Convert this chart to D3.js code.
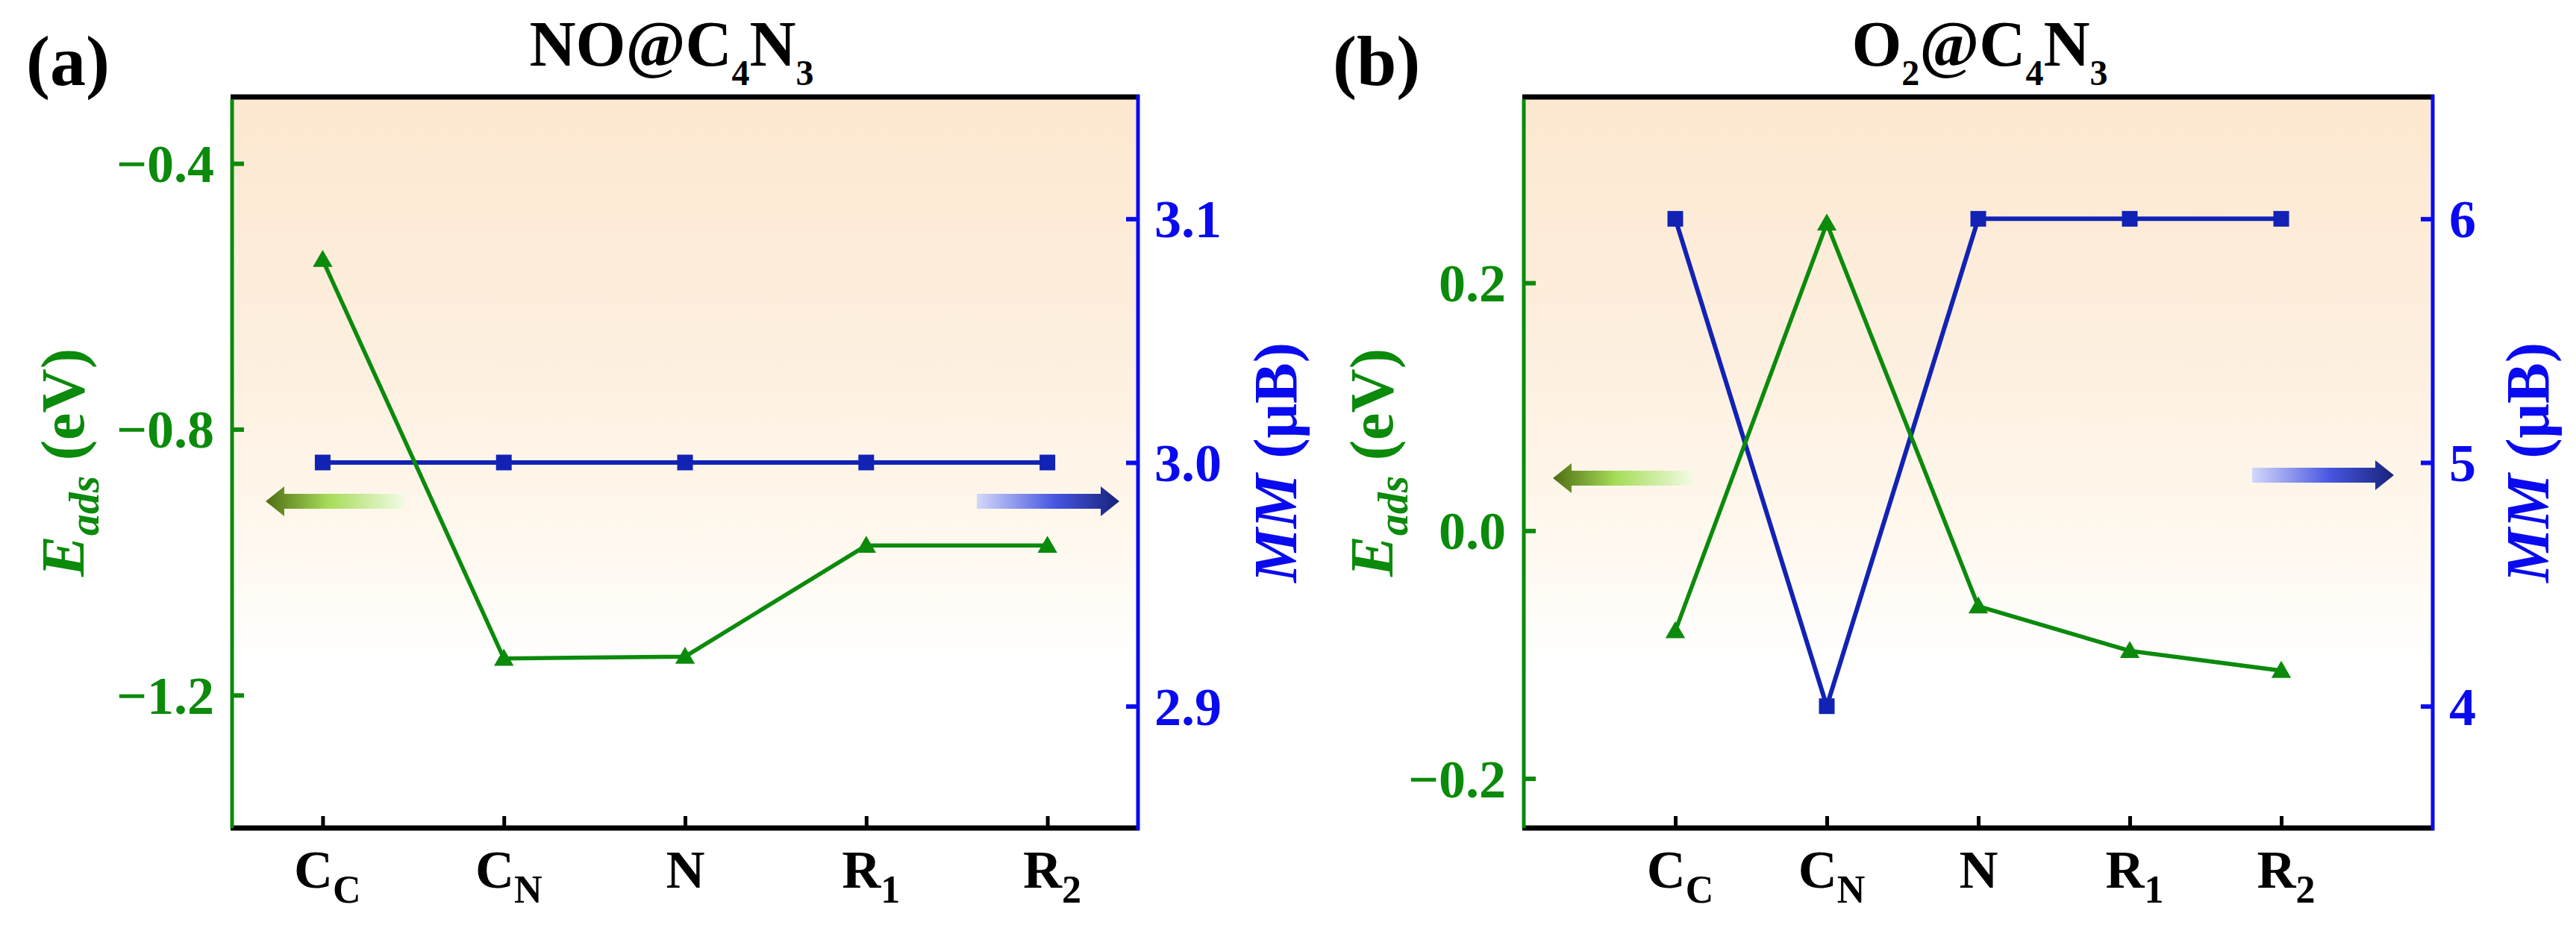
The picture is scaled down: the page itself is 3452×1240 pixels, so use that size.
<!DOCTYPE html>
<html>
<head>
<meta charset="utf-8">
<script src="https://cdn.jsdelivr.net/npm/d3@7"></script>
<style>
  html, body { margin: 0; padding: 0; background: #fff; }
  svg { display: block; }
  svg text { font-family: "Liberation Serif", "Times New Roman", Times, "DejaVu Serif", serif; font-weight: bold; }
</style>
</head>
<body>
<div id="chart"></div>
<script>
// adsorption sites (tick labels: main letter + subscript)
const siteMain = ["C", "C", "N", "R", "R"]
const siteSub = ["C", "N", "", "1", "2"]

// (a) NO@C4N3
const eadsNO = [-0.545, -1.145, -1.142, -0.975, -0.975]
const mmNO = [3.0, 3.0, 3.0, 3.0, 3.0]
// (b) O2@C4N3
const eadsO2 = [-0.081, 0.248, -0.061, -0.097, -0.113]
const mmO2 = [6, 4, 6, 6, 6]

const eadsTicksNO = [-1.2, -0.8, -0.4]
const mmTicksNO = [2.9, 3.0, 3.1]
const eadsTicksO2 = [-0.2, 0.0, 0.2]
const mmTicksO2 = [4, 5, 6]

const green = "#0b8a0b"
const blueAxis = "#0a0af0"
const blueLine = "#1222b4"

const W = 3452, H = 1240
const plotTop = 130, plotBottom = 1110

const panels = [
  {
    tag: "(a)", tagX: 35,
    title: [["NO@C", 0], ["4", 1], ["N", 0], ["3", 1]], titleX: 900,
    eads: eadsNO, mm: mmNO,
    eadsTicks: eadsTicksNO, mmTicks: mmTicksNO,
    eadsDomain: [-1.4, -0.3], mmDomain: [2.85, 3.15],
    eadsFmt: d3.format(".1f"), mmFmt: d3.format(".1f"),
    xDomain: [0.5, 5.5], left: 311, right: 1525,
    leftLabelX: 112, rightLabelX: 1737,
    arrowL: { tip: 356, tail: 542, cy: 672 },
    arrowR: { tail: 1309, tip: 1500, cy: 672 }
  },
  {
    tag: "(b)", tagX: 1786,
    title: [["O", 0], ["2", 1], ["@C", 0], ["4", 1], ["N", 0], ["3", 1]], titleX: 2653,
    eads: eadsO2, mm: mmO2,
    eadsTicks: eadsTicksO2, mmTicks: mmTicksO2,
    eadsDomain: [-0.24, 0.35], mmDomain: [3.5, 6.5],
    eadsFmt: d3.format(".1f"), mmFmt: d3.format("d"),
    xDomain: [0, 6], left: 2042, right: 3260,
    leftLabelX: 1866, rightLabelX: 3415,
    arrowL: { tip: 2081, tail: 2268, cy: 641 },
    arrowR: { tail: 3018, tip: 3208, cy: 637 }
  }
]

const svg = d3.select("#chart").append("svg")
  .attr("width", W).attr("height", H)
  .attr("viewBox", `0 0 ${W} ${H}`)

const defs = svg.append("defs")

const bg = defs.append("linearGradient").attr("id", "bg")
  .attr("x1", 0).attr("y1", 0).attr("x2", 0).attr("y2", 1)
bg.append("stop").attr("offset", "0%").attr("stop-color", "#fde8d0")
bg.append("stop").attr("offset", "35%").attr("stop-color", "#fdefdf")
bg.append("stop").attr("offset", "60%").attr("stop-color", "#fff8ee")
bg.append("stop").attr("offset", "78%").attr("stop-color", "#ffffff")

const gArrow = defs.append("linearGradient").attr("id", "garrow")
  .attr("x1", 0).attr("y1", 0).attr("x2", 1).attr("y2", 0)
gArrow.append("stop").attr("offset", "0%").attr("stop-color", "#4f6e12")
gArrow.append("stop").attr("offset", "45%").attr("stop-color", "#a6dc58")
gArrow.append("stop").attr("offset", "100%").attr("stop-color", "#f2fbe4")

const bArrow = defs.append("linearGradient").attr("id", "barrow")
  .attr("x1", 0).attr("y1", 0).attr("x2", 1).attr("y2", 0)
bArrow.append("stop").attr("offset", "0%").attr("stop-color", "#d4d8fa")
bArrow.append("stop").attr("offset", "55%").attr("stop-color", "#4656e0")
bArrow.append("stop").attr("offset", "100%").attr("stop-color", "#17227a")

function arrowPath(tip, tail, cy) {
  const dir = tail > tip ? 1 : -1
  const hl = 25 * dir, sh = 10, hh = 20
  const b = tip + hl
  return `M${tip},${cy} L${b},${cy - hh} L${b},${cy - sh} L${tail},${cy - sh} ` +
    `L${tail},${cy + sh} L${b},${cy + sh} L${b},${cy + hh} Z`
}

function subText(sel, parts, mainSize, subSize, shift) {
  let down = false
  parts.forEach(([t, isSub]) => {
    const ts = sel.append("tspan").text(t)
    if (isSub && !down) { ts.attr("font-size", subSize).attr("dy", shift); down = true }
    else if (!isSub && down) { ts.attr("font-size", mainSize).attr("dy", -shift); down = false }
    else if (isSub) ts.attr("font-size", subSize)
  })
}

panels.forEach((p) => {
  const x = d3.scaleLinear().domain(p.xDomain).range([p.left, p.right])
  const yE = d3.scaleLinear().domain(p.eadsDomain).range([plotBottom, plotTop])
  const yM = d3.scaleLinear().domain(p.mmDomain).range([plotBottom, plotTop])
  const idx = d3.range(1, 6)

  const g = svg.append("g")

  g.append("rect")
    .attr("x", p.left).attr("y", plotTop)
    .attr("width", p.right - p.left).attr("height", plotBottom - plotTop)
    .attr("fill", "url(#bg)")

  // arrows pointing to the axes
  g.append("path").attr("d", arrowPath(p.arrowL.tip, p.arrowL.tail, p.arrowL.cy))
    .attr("fill", "url(#garrow)")
  g.append("path").attr("d", arrowPath(p.arrowR.tip, p.arrowR.tail, p.arrowR.cy))
    .attr("fill", "url(#barrow)")

  // MM line + squares
  g.append("path")
    .datum(p.mm)
    .attr("fill", "none")
    .attr("stroke", blueLine)
    .attr("stroke-width", 6)
    .attr("d", d3.line().x((d, i) => x(i + 1)).y((d) => yM(d)))
  g.selectAll(".sq").data(p.mm).enter().append("path")
    .attr("transform", (d, i) => `translate(${x(i + 1)},${yM(d)})`)
    .attr("d", d3.symbol(d3.symbolSquare, 441))
    .attr("fill", blueLine)

  // Eads line + triangles
  g.append("path")
    .datum(p.eads)
    .attr("fill", "none")
    .attr("stroke", green)
    .attr("stroke-width", 5.5)
    .attr("d", d3.line().x((d, i) => x(i + 1)).y((d) => yE(d)))
  g.selectAll(".tri").data(p.eads).enter().append("path")
    .attr("transform", (d, i) => `translate(${x(i + 1)},${yE(d) + 2})`)
    .attr("d", d3.symbol(d3.symbolTriangle, 300))
    .attr("fill", green)

  // left axis (Eads)
  const la = g.append("g")
    .attr("transform", `translate(${p.left},0)`)
    .call(d3.axisLeft(yE).tickValues(p.eadsTicks).tickFormat(p.eadsFmt).tickSize(-16).tickPadding(24))
  la.attr("font-family", null)
  la.select(".domain").remove()
  la.selectAll("line").attr("stroke", green).attr("stroke-width", 6)
  la.selectAll("text").attr("fill", green).attr("font-size", 72).attr("dy", "0.34em")

  // right axis (MM)
  const ra = g.append("g")
    .attr("transform", `translate(${p.right},0)`)
    .call(d3.axisRight(yM).tickValues(p.mmTicks).tickFormat(p.mmFmt).tickSize(-16).tickPadding(22))
  ra.attr("font-family", null)
  ra.select(".domain").remove()
  ra.selectAll("line").attr("stroke", blueAxis).attr("stroke-width", 6)
  ra.selectAll("text").attr("fill", blueAxis).attr("font-size", 72).attr("dy", "0.34em")

  // bottom axis (sites)
  const ba = g.append("g")
    .attr("transform", `translate(0,${plotBottom})`)
    .call(d3.axisBottom(x).tickValues(idx).tickSize(-16).tickFormat(""))
  ba.attr("font-family", null)
  ba.select(".domain").remove()
  ba.selectAll("line").attr("stroke", "#000").attr("stroke-width", 5)
  ba.selectAll(".tick text").each(function (d) {
    const t = d3.select(this)
      .attr("y", 80).attr("dy", 0)
      .attr("fill", "#000").attr("font-size", 72)
      .attr("dx", siteSub[d - 1] ? 6 : 0)
    t.append("tspan").text(siteMain[d - 1])
    if (siteSub[d - 1]) t.append("tspan").attr("font-size", 52).attr("dy", 20).text(siteSub[d - 1])
  })

  // frame
  g.append("line").attr("x1", p.left - 2).attr("x2", p.right + 2).attr("y1", plotTop).attr("y2", plotTop)
    .attr("stroke", "#000").attr("stroke-width", 7)
  g.append("line").attr("x1", p.left - 2).attr("x2", p.right + 2).attr("y1", plotBottom).attr("y2", plotBottom)
    .attr("stroke", "#000").attr("stroke-width", 7)
  g.append("line").attr("x1", p.left).attr("x2", p.left).attr("y1", plotTop + 3).attr("y2", plotBottom)
    .attr("stroke", green).attr("stroke-width", 5)
  g.append("line").attr("x1", p.right).attr("x2", p.right).attr("y1", plotTop - 3).attr("y2", plotBottom + 3)
    .attr("stroke", blueAxis).attr("stroke-width", 5)

  // axis titles
  const cy = (plotTop + plotBottom) / 2
  const lt = g.append("text")
    .attr("transform", `translate(${p.leftLabelX},${cy}) rotate(-90)`)
    .attr("text-anchor", "middle").attr("fill", green).attr("font-size", 82)
  lt.append("tspan").attr("font-style", "italic").text("E")
  lt.append("tspan").attr("font-style", "italic").attr("font-size", 58).attr("dy", 20).text("ads")
  lt.append("tspan").attr("dy", -20).text(" (eV)")

  const rt = g.append("text")
    .attr("transform", `translate(${p.rightLabelX},${cy}) rotate(-90)`)
    .attr("text-anchor", "middle").attr("fill", blueAxis).attr("font-size", 82)
  rt.append("tspan").attr("font-style", "italic").text("MM")
  rt.append("tspan").text(" (μB)")

  // panel title and tag
  const tt = g.append("text")
    .attr("x", p.titleX).attr("y", 88)
    .attr("text-anchor", "middle").attr("fill", "#000").attr("font-size", 86)
  subText(tt, p.title, 86, 48, 26)

  g.append("text")
    .attr("x", p.tagX).attr("y", 114)
    .attr("fill", "#000").attr("font-size", 96)
    .text(p.tag)
})
</script>
</body>
</html>
